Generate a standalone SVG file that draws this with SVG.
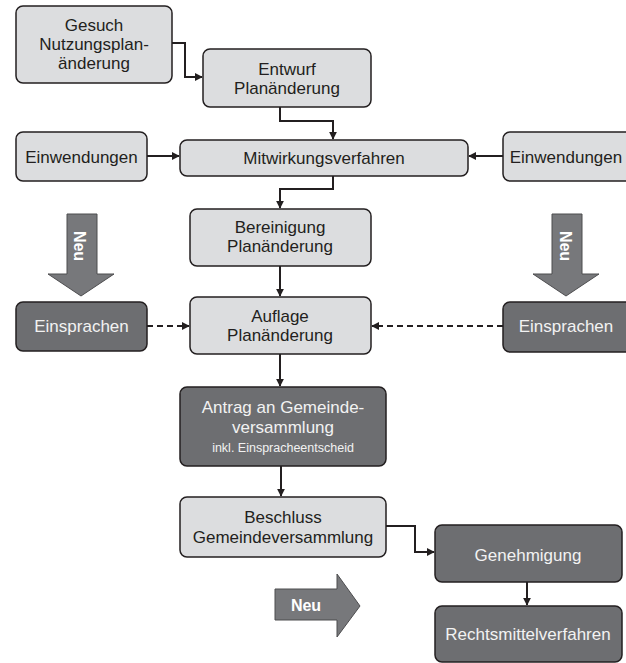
<svg xmlns="http://www.w3.org/2000/svg" width="626" height="663" viewBox="0 0 626 663">
<style>
.lt{fill:#dcdddf;stroke:#231f20;stroke-width:1.5}
.dk{fill:#6d6e71;stroke:#231f20;stroke-width:1.5}
text{font-family:"Liberation Sans",Arial,sans-serif;font-size:17px;text-anchor:middle}
.t{fill:#231f20}
.w{fill:#f2f2f2}
.s{font-size:12.5px}
.con{fill:none;stroke:#231f20;stroke-width:2}
.dash{stroke-dasharray:6 4}
.big{fill:#77787b;stroke:#4d4d4f;stroke-width:1}
.neu{fill:#ffffff;font-weight:bold;font-size:16px}
</style>
<defs>
<marker id="ah" viewBox="0 0 10 10" refX="9" refY="5" markerWidth="4" markerHeight="4" orient="auto" markerUnits="strokeWidth">
<path d="M0,0 L10,5 L0,10 z" fill="#231f20"/>
</marker>
</defs>
<rect width="626" height="663" fill="#ffffff"/>

<g id="connectors">
<path class="con" d="M172,43 H185 V77 H202" marker-end="url(#ah)"/>
<path class="con" d="M280,107 V121 H333 V139" marker-end="url(#ah)"/>
<path class="con" d="M147,156 H179" marker-end="url(#ah)"/>
<path class="con" d="M503,156 H469" marker-end="url(#ah)"/>
<path class="con" d="M333,176 V189 H280 V208" marker-end="url(#ah)"/>
<path class="con" d="M280,266 V296" marker-end="url(#ah)"/>
<path class="con dash" d="M147,326 H189" marker-end="url(#ah)"/>
<path class="con dash" d="M503,326 H372" marker-end="url(#ah)"/>
<path class="con" d="M280,354 V386" marker-end="url(#ah)"/>
<path class="con" d="M281,466 V496" marker-end="url(#ah)"/>
<path class="con" d="M386,526 H415 V552 H434" marker-end="url(#ah)"/>
<path class="con" d="M527,582 V605" marker-end="url(#ah)"/>
</g>

<g id="neu-left">
<path class="big" d="M67,214 H97 V274 H114 L81,296 L48,274 H67 Z"/>
<text class="neu" transform="translate(80,246) rotate(90)" y="6">Neu</text>
</g>
<g id="neu-right">
<path class="big" d="M552,214 H582 V274 H599 L566,296 L533,274 H552 Z"/>
<text class="neu" transform="translate(566,246) rotate(90)" y="6">Neu</text>
</g>
<g id="neu-bottom">
<path class="big" d="M275,589 H337 V574 L360,606 L337,637 V620 H275 Z"/>
<text class="neu" x="306" y="611">Neu</text>
</g>

<g id="gesuch">
<rect class="lt" x="16" y="6" width="156" height="77" rx="7"/>
<text class="t" x="94" y="31">Gesuch</text>
<text class="t" x="94" y="50">Nutzungsplan-</text>
<text class="t" x="94" y="69">änderung</text>
</g>
<g id="entwurf">
<rect class="lt" x="203" y="49" width="168" height="58" rx="7"/>
<text class="t" x="287" y="75">Entwurf</text>
<text class="t" x="287" y="94">Planänderung</text>
</g>
<g id="einwendungen-left">
<rect class="lt" x="16" y="132" width="131" height="49" rx="7"/>
<text class="t" x="81.5" y="163">Einwendungen</text>
</g>
<g id="mitwirkung">
<rect class="lt" x="180" y="140" width="288" height="36" rx="7"/>
<text class="t" x="324" y="164">Mitwirkungsverfahren</text>
</g>
<g id="einwendungen-right">
<rect class="lt" x="503" y="132" width="130" height="49" rx="7"/>
<text class="t" x="566" y="163">Einwendungen</text>
</g>
<g id="bereinigung">
<rect class="lt" x="190" y="209" width="181" height="57" rx="7"/>
<text class="t" x="280" y="233">Bereinigung</text>
<text class="t" x="280" y="252">Planänderung</text>
</g>
<g id="einsprachen-left">
<rect class="dk" x="16" y="302" width="131" height="49" rx="7"/>
<text class="w" x="81.5" y="332">Einsprachen</text>
</g>
<g id="auflage">
<rect class="lt" x="190" y="297" width="181" height="57" rx="7"/>
<text class="t" x="280" y="322">Auflage</text>
<text class="t" x="280" y="341">Planänderung</text>
</g>
<g id="einsprachen-right">
<rect class="dk" x="503" y="302" width="130" height="50" rx="7"/>
<text class="w" x="566" y="332">Einsprachen</text>
</g>
<g id="antrag">
<rect class="dk" x="180" y="387" width="206" height="79" rx="7"/>
<text class="w" x="283" y="413">Antrag an Gemeinde-</text>
<text class="w" x="283" y="433">versammlung</text>
<text class="w s" x="283" y="452">inkl. Einspracheentscheid</text>
</g>
<g id="beschluss">
<rect class="lt" x="180" y="497" width="206" height="60" rx="7"/>
<text class="t" x="283" y="523">Beschluss</text>
<text class="t" x="283" y="543">Gemeindeversammlung</text>
</g>
<g id="genehmigung">
<rect class="dk" x="435" y="525" width="187" height="57" rx="7"/>
<text class="w" x="528" y="561">Genehmigung</text>
</g>
<g id="rechtsmittel">
<rect class="dk" x="435" y="606" width="187" height="56" rx="7"/>
<text class="w" x="528" y="640">Rechtsmittelverfahren</text>
</g>
</svg>
